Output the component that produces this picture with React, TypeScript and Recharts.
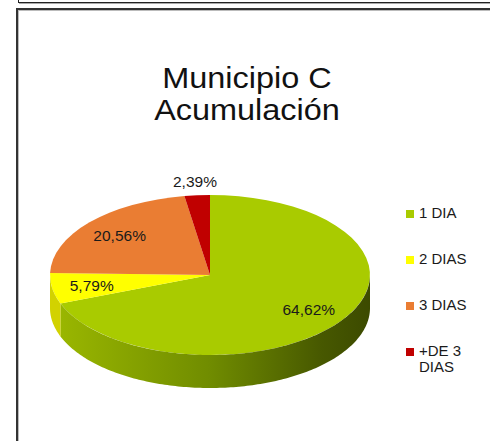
import React from 'react';
import { PieChart, Pie, Cell, Legend } from 'recharts';

const categories = ['1 DIA', '2 DIAS', '3 DIAS', '+DE 3 DIAS'];
const values = [64.62, 5.79, 20.56, 2.39];
const topColors = ['#A9CB00', '#FFFF00', '#EA7D33', '#C00000'];
const sideColors = ['url(#greenSide)', '#D2D200', '#B85E22', '#8A0000'];
const titleLines = ['Municipio C', 'Acumulación'];

const data = categories.map((name, i) => ({ name, value: values[i] }));

const CX = 210;
const CY = 275;
const R = 160;
const TILT = 0.5;
const DEPTH = 33;
const RAD = Math.PI / 180;
const FONT = '"Liberation Sans", Arial, sans-serif';

const fmt = (v: number) => v.toFixed(2).replace('.', ',') + '%';

const renderLabel = (props: any) => {
  const { cx, cy, outerRadius, startAngle, endAngle, midAngle, percent, value, index } = props;
  const rx = outerRadius;
  const ry = outerRadius * TILT;
  const pt = (a: number, dy: number) => [cx + rx * Math.cos(a * RAD), cy - ry * Math.sin(a * RAD) + dy];
  const lo = Math.min(startAngle, endAngle);
  const hi = Math.max(startAngle, endAngle);
  const walls: string[] = [];
  for (let k = -2; k <= 2; k++) {
    const a0 = Math.max(lo, -180 + 360 * k);
    const a1 = Math.min(hi, 360 * k);
    if (a1 - a0 > 0.01) {
      const n = Math.max(2, Math.ceil(a1 - a0));
      const top: number[][] = [];
      const bot: number[][] = [];
      for (let j = 0; j <= n; j++) {
        const a = a0 + ((a1 - a0) * j) / n;
        top.push(pt(a, 0));
        bot.push(pt(a, DEPTH));
      }
      const d =
        'M' + top.map((p) => p[0].toFixed(2) + ',' + p[1].toFixed(2)).join(' L') +
        ' L' + bot.reverse().map((p) => p[0].toFixed(2) + ',' + p[1].toFixed(2)).join(' L') + ' Z';
      walls.push(d);
    }
  }
  const outside = percent < 0.05;
  const f = outside ? 1.17 : 0.75;
  const [lx, ly] = pt(midAngle, 0).map((v, i) => (i === 0 ? cx + (v - cx) * f : cy + (v - cy) * f));
  return (
    <g key={'lbl' + index}>
      {index === 0 && (
        <defs>
          <linearGradient id="greenSide" gradientUnits="userSpaceOnUse" x1={cx - rx} y1={0} x2={cx + rx} y2={0}>
            <stop offset="0" stopColor="#9CB900" />
            <stop offset="0.5" stopColor="#708C00" />
            <stop offset="0.85" stopColor="#475800" />
            <stop offset="1" stopColor="#3C4A00" />
          </linearGradient>
        </defs>
      )}
      {walls.map((d, i) => (
        <path key={i} d={d} fill={sideColors[index]} stroke="none" />
      ))}
      <text
        x={lx}
        y={ly}
        textAnchor="middle"
        dominantBaseline="central"
        fontFamily={FONT}
        fontSize={15.5}
        fill="#1a1a1a"
      >
        {fmt(value)}
      </text>
    </g>
  );
};

const renderLegend = (props: any) => {
  const items = [...(props.payload || [])].sort(
    (a: any, b: any) => categories.indexOf(a.value) - categories.indexOf(b.value)
  );
  return (
    <div style={{ display: 'flex', flexDirection: 'column', fontFamily: FONT }}>
      {items.map((e: any, i: number) => {
        const idx = categories.indexOf(e.value);
        return (
          <div key={i} style={{ display: 'flex', alignItems: 'flex-start', height: 46 }}>
            <span
              style={{
                width: 8,
                height: 8,
                background: topColors[idx >= 0 ? idx : i],
                marginTop: 5,
                marginRight: 5,
                flex: 'none',
              }}
            />
            <span style={{ width: 60, fontSize: 15, lineHeight: '16px', color: '#1a1a1a' }}>{e.value}</span>
          </div>
        );
      })}
    </div>
  );
};

export default function App() {
  return (
    <div style={{ position: 'absolute', left: 0, top: 0, width: 490, height: 441, overflow: 'hidden', background: '#fff', fontFamily: FONT }}>
      <style>{`.pie3d .recharts-sector { transform-origin: ${CX}px ${CY}px; transform: scaleY(${TILT}); }`}</style>
      <div style={{ position: 'absolute', left: 18, top: -20, width: 500, height: 21, border: '1px solid #222', boxShadow: '1px 1px 0 #aaa' }} />
      <div style={{ position: 'absolute', left: 16, top: 8, width: 520, height: 520, borderLeft: '2px solid #333', borderTop: '2px solid #333', boxShadow: 'inset 1px 1px 0 #bbb' }} />
      <svg width={490} height={441} style={{ position: 'absolute', left: 0, top: 0 }}>
        {titleLines.map((t, i) => (
          <text
            key={i}
            x={247}
            y={88 + i * 32.4}
            textAnchor="middle"
            fontFamily={FONT}
            fontSize={29.5}
            fill="#111"
            transform="translate(247 0) scale(1.1 1) translate(-247 0)"
          >
            {t}
          </text>
        ))}
      </svg>
      <div style={{ position: 'absolute', left: 0, top: 0 }}>
        <PieChart width={490} height={441} margin={{ top: 0, right: 0, bottom: 0, left: 0 }}>
          <Pie
            className="pie3d"
            data={data}
            dataKey="value"
            nameKey="name"
            cx={CX}
            cy={CY}
            outerRadius={R}
            startAngle={90}
            endAngle={-270}
            stroke="none"
            label={renderLabel}
            labelLine={false}
            isAnimationActive={false}
          >
            {data.map((d, i) => (
              <Cell key={d.name} fill={topColors[i]} stroke="none" />
            ))}
          </Pie>
          <Legend
            layout="vertical"
            align="right"
            verticalAlign="middle"
            itemSorter={null as any}
            content={renderLegend}
            wrapperStyle={{ left: 406, top: 205, width: 80 }}
          />
        </PieChart>
      </div>
    </div>
  );
}
